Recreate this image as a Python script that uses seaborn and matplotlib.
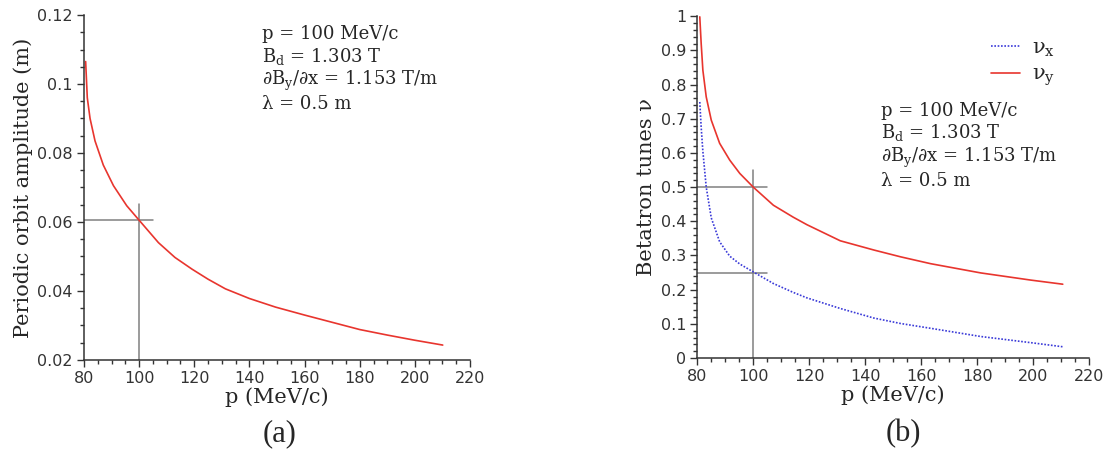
import numpy as np
import pandas as pd
import seaborn as sns
import matplotlib
matplotlib.use('Agg')
import matplotlib.pyplot as plt
from matplotlib.ticker import MultipleLocator

# (a) periodic orbit amplitude vs momentum
p_a = [80.6, 81.2, 82.2, 84.0, 87.0, 90.7, 95.5, 100, 107.0, 113, 119.2, 125, 131.3,
       140, 149.5, 160, 170, 180, 190, 200, 210.1]
amp = [0.1065, 0.096, 0.090, 0.0835, 0.0765, 0.0705, 0.0647, 0.0605, 0.0540, 0.0497,
       0.0463, 0.0434, 0.0406, 0.0378, 0.0353, 0.033, 0.0309, 0.0288, 0.0272, 0.0257, 0.0243]

# (b) betatron tunes vs momentum
p_b = [80.9, 81.4, 82.0, 83.2, 85.0, 88.0, 91.6, 95.2, 100, 107.2, 114.3, 119.2, 131.1,
       143.1, 152.7, 163.4, 181.3, 199.2, 210.6]
nu_x = [0.749, 0.675, 0.605, 0.50, 0.41, 0.34, 0.298, 0.275, 0.252, 0.218, 0.192, 0.176,
        0.145, 0.117, 0.101, 0.087, 0.063, 0.045, 0.033]
nu_y = [0.998, 0.92, 0.842, 0.764, 0.696, 0.628, 0.579, 0.54, 0.5, 0.447, 0.412, 0.39,
        0.343, 0.316, 0.296, 0.276, 0.249, 0.228, 0.216]

p_ref = 100
amp_ref = 0.0605
nu_ref = [0.5, 0.25]

params = ("p = 100 MeV/c\n"
          "$\\mathregular{B_d}$ = 1.303 T\n"
          "∂$\\mathregular{B_y}$/∂x = 1.153 T/m\n"
          "λ = 0.5 m")

sns.set_style("ticks")
plt.rcParams['font.family'] = ['DejaVu Sans']
plt.rcParams['axes.edgecolor'] = '#333333'
plt.rcParams['xtick.color'] = '#333333'
plt.rcParams['ytick.color'] = '#333333'
plt.rcParams['xtick.labelcolor'] = '#333333'
plt.rcParams['ytick.labelcolor'] = '#333333'

RED = '#e8352e'
BLUE = '#3a3ad8'
GRAY = '#808080'
SERIF = 'DejaVu Serif'

fig = plt.figure(figsize=(11.08, 4.62), dpi=100)
ax1 = fig.add_axes([0.0758, 0.221, 0.3484, 0.7465])
ax2 = fig.add_axes([0.6293, 0.225, 0.3536, 0.740])

df_a = pd.DataFrame({"p": p_a, "amp": amp})
sns.lineplot(data=df_a, x="p", y="amp", ax=ax1, color=RED, linewidth=1.2)
ax1.plot([p_ref, p_ref], [0.02, 0.0652], color=GRAY, lw=1.1, zorder=1)
ax1.plot([80, p_ref + 5], [amp_ref, amp_ref], color=GRAY, lw=1.1, zorder=1)
ax1.set_xlim(80, 220)
ax1.set_ylim(0.02, 0.12)
ax1.xaxis.set_major_locator(MultipleLocator(20))
ax1.xaxis.set_minor_locator(MultipleLocator(5))
ax1.yaxis.set_major_locator(MultipleLocator(0.02))
ax1.yaxis.set_minor_locator(MultipleLocator(0.005))
ax1.set_xlabel("p (MeV/c)", family=SERIF, fontsize=15, labelpad=1)
ax1.set_ylabel("Periodic orbit amplitude (m)", family=SERIF, fontsize=15, labelpad=3)
ax1.text(0.461, 0.97, params, transform=ax1.transAxes, family=SERIF, fontsize=13,
         va='top', ha='left', linespacing=1.15)

df_b = pd.DataFrame({"p": p_b + p_b,
                     "nu": nu_x + nu_y,
                     "tune": ["ν$\\mathregular{_x}$"] * len(p_b) + ["ν$\\mathregular{_y}$"] * len(p_b)})
sns.lineplot(data=df_b, x="p", y="nu", hue="tune", style="tune", ax=ax2,
             palette=[BLUE, RED], dashes=[(1, 1), ""], linewidth=1.2)
ax2.plot([p_ref, p_ref], [0, 0.55], color=GRAY, lw=1.1, zorder=1)
for v in nu_ref:
    ax2.plot([80, p_ref + 5], [v, v], color=GRAY, lw=1.1, zorder=1)
ax2.set_xlim(80, 220)
ax2.set_ylim(0, 1)
ax2.xaxis.set_major_locator(MultipleLocator(20))
ax2.xaxis.set_minor_locator(MultipleLocator(5))
ax2.yaxis.set_major_locator(MultipleLocator(0.1))
ax2.yaxis.set_minor_locator(MultipleLocator(0.02))
ax2.set_xlabel("p (MeV/c)", family=SERIF, fontsize=15, labelpad=1)
ax2.set_ylabel("Betatron tunes ν", family=SERIF, fontsize=15, labelpad=3)
ax2.text(0.469, 0.75, params, transform=ax2.transAxes, family=SERIF, fontsize=13,
         va='top', ha='left', linespacing=1.15)
ax2.legend(loc='upper right', bbox_to_anchor=(0.962, 0.99), frameon=False,
           handlelength=1.4, handletextpad=0.6, labelspacing=0.3,
           prop={'family': SERIF, 'size': 15})


def fmt(v, _):
    return f"{v:.2f}".rstrip('0').rstrip('.')


for ax in (ax1, ax2):
    sns.despine(ax=ax)
    ax.yaxis.set_major_formatter(plt.FuncFormatter(fmt))
    ax.tick_params(which='major', length=5, width=1, labelsize=11.5, pad=3)
    ax.tick_params(which='minor', length=3, width=1)
    for sp in ax.spines.values():
        sp.set_linewidth(1.1)
    ax.grid(False)

fig.text(0.2527, 0.062, "(a)", family='Liberation Serif', fontsize=22, ha='center', va='center')
fig.text(0.815, 0.062, "(b)", family='Liberation Serif', fontsize=22, ha='center', va='center')

fig.savefig("out.png", dpi=100)
plt.close(fig)
